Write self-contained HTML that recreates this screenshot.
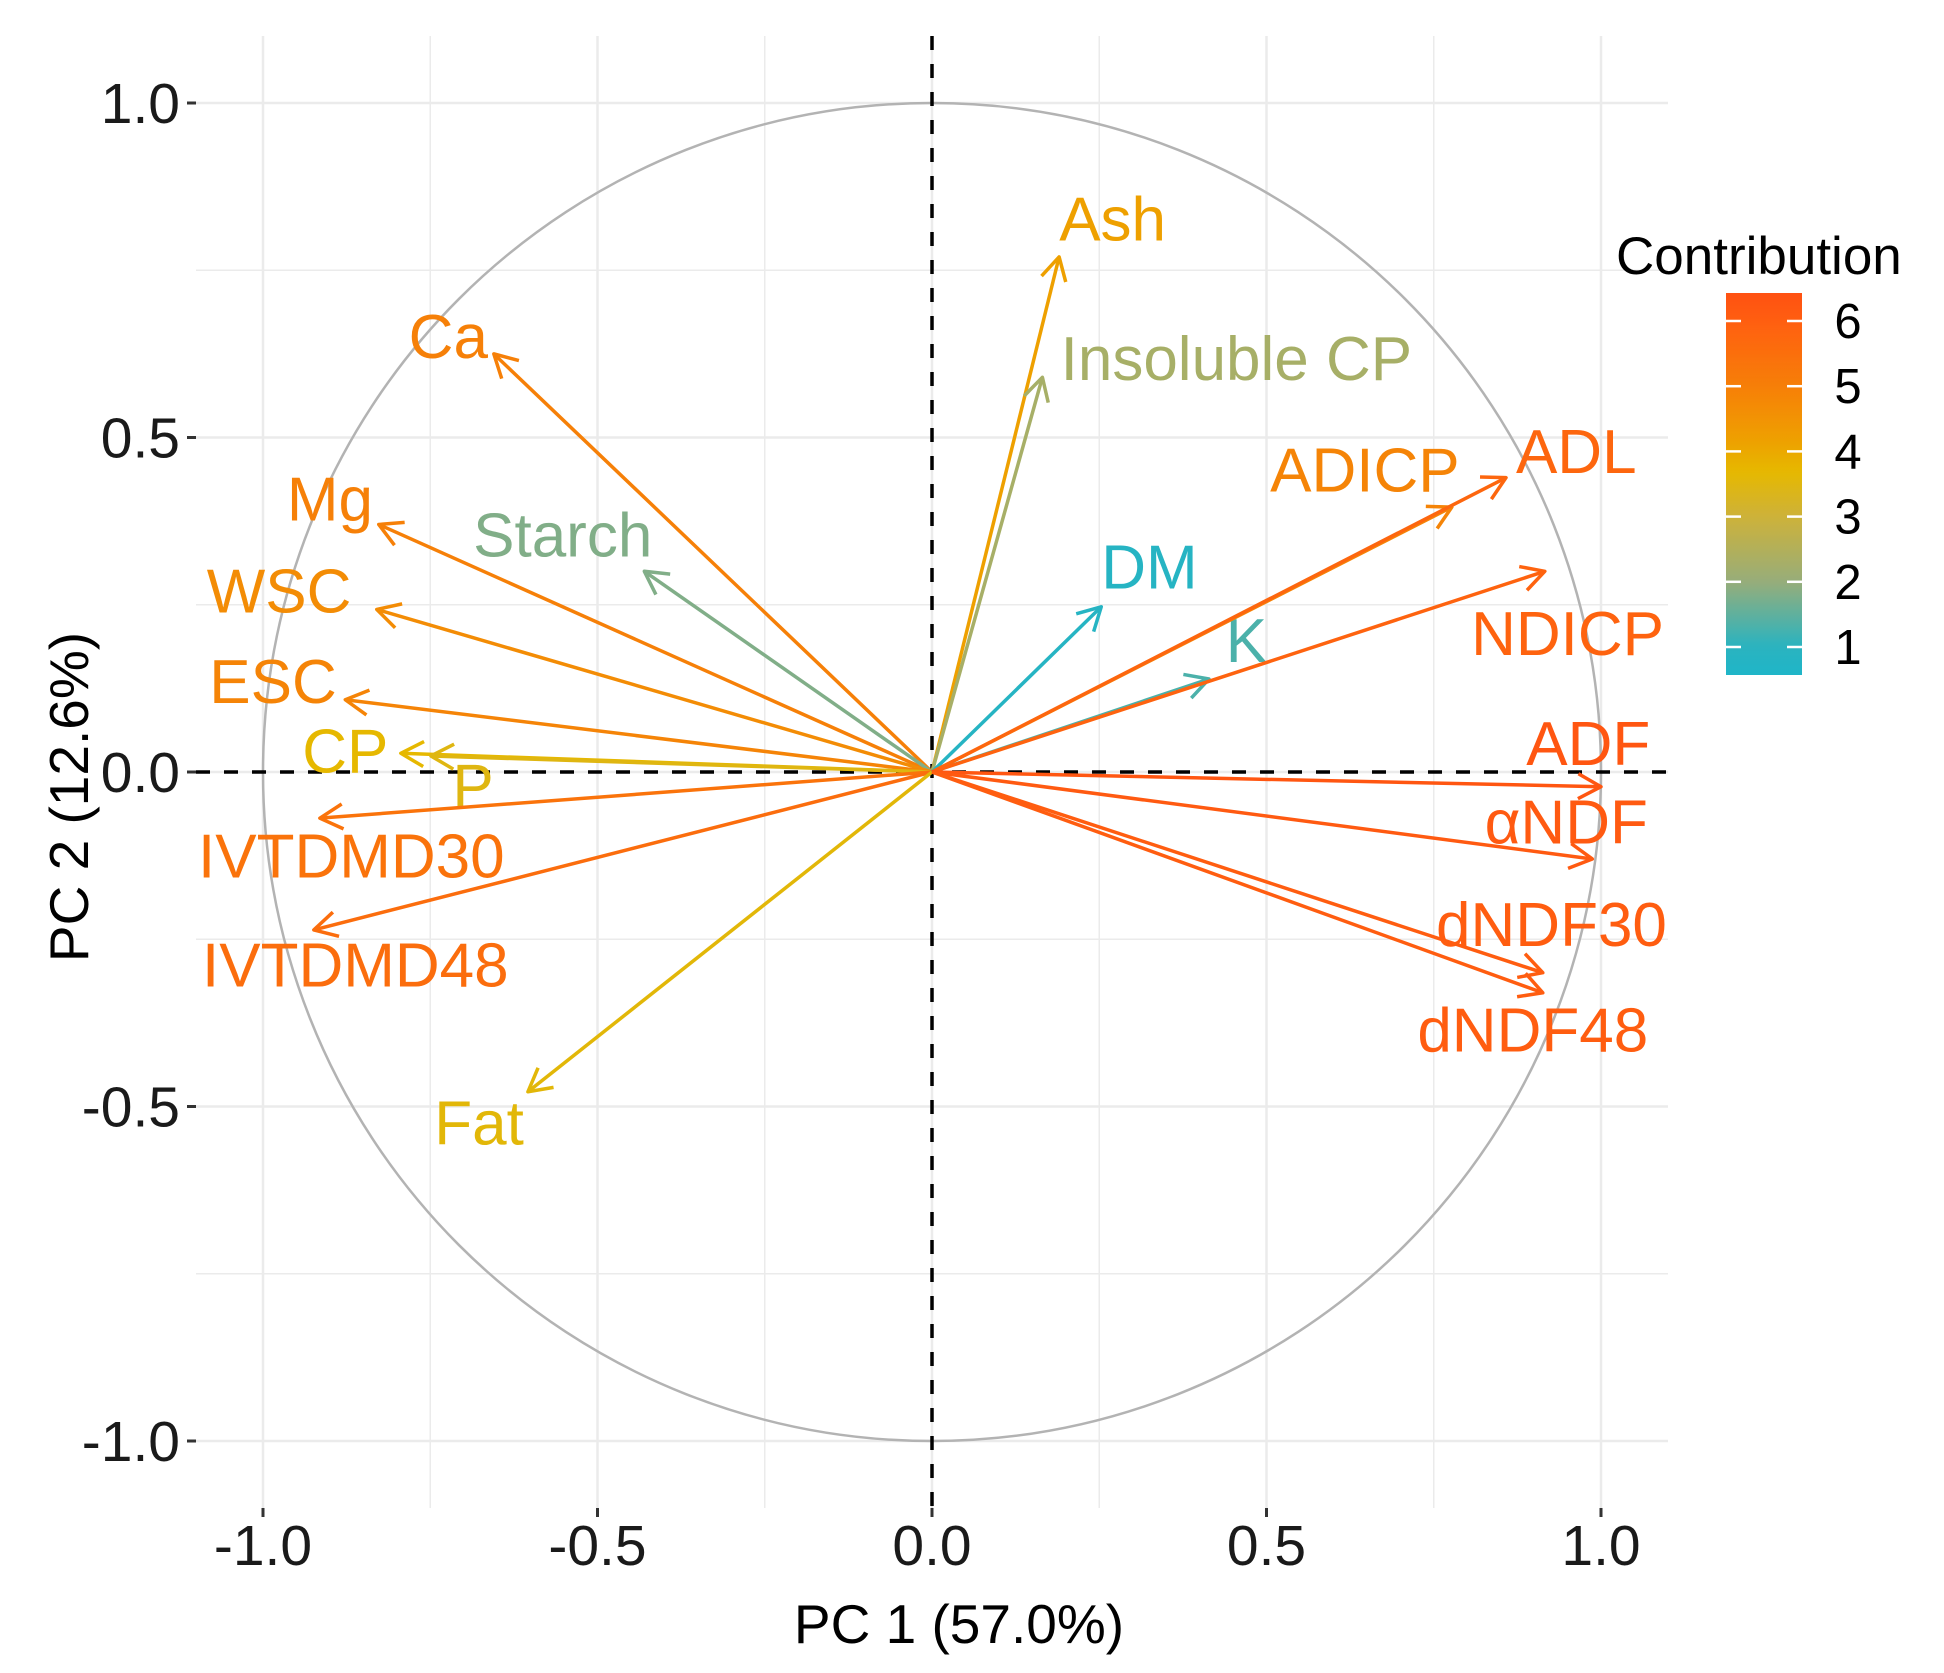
<!DOCTYPE html>
<html><head><meta charset="utf-8"><style>
html,body{margin:0;padding:0;background:#fff}
svg{display:block;font-family:"Liberation Sans",Arial,sans-serif}
</style></head><body>
<svg id="chart" width="1944" height="1673" viewBox="0 0 1944 1673" xmlns="http://www.w3.org/2000/svg">
<defs>
<linearGradient id="cgrad" x1="0" y1="1" x2="0" y2="0"></linearGradient>
</defs>
<g id="grid"></g>
<g id="marks"></g>
<g id="axes"></g>
<g id="legend"></g>
</svg>
<script>
const varNames = ["Ash","Insoluble CP","Ca","Mg","Starch","WSC","ESC","CP","P","IVTDMD30","IVTDMD48","Fat","DM","K","ADICP","ADL","NDICP","ADF","αNDF","dNDF30","dNDF48"];
const pc1 = [0.19,0.165,-0.655,-0.827,-0.43,-0.83,-0.877,-0.794,-0.749,-0.915,-0.924,-0.604,0.253,0.414,0.777,0.858,0.916,1.0,0.987,0.913,0.913];
const pc2 = [0.77,0.59,0.625,0.37,0.30,0.243,0.108,0.028,0.024,-0.069,-0.236,-0.478,0.247,0.139,0.396,0.44,0.30,-0.022,-0.13,-0.30,-0.33];
const contrib = [4.2,2.3,5.0,5.0,1.8,4.7,4.9,3.7,3.5,5.4,5.6,3.6,0.8,1.3,4.9,5.8,5.9,6.3,6.2,6.1,6.1];
const labelX = [0.27,0.455,-0.723,-0.9,-0.552,-0.976,-0.985,-0.877,-0.686,-0.868,-0.862,-0.677,0.325,0.47,0.647,0.963,0.95,0.981,0.948,0.926,0.898];
const labelY = [0.827,0.619,0.652,0.409,0.355,0.271,0.136,0.032,-0.02,-0.125,-0.288,-0.524,0.307,0.197,0.452,0.48,0.208,0.043,-0.074,-0.227,-0.385];
const majorTicks = [-1,-0.5,0,0.5,1];
const tickLabels = ["-1.0","-0.5","0.0","0.5","1.0"];
const minorTicks = [-0.75,-0.25,0.25,0.75];
const legendTicks = [1,2,3,4,5,6];

const NS="http://www.w3.org/2000/svg";
const CX=932, CY=772, U=669;
const L=196, R=1668, T=36, B=1508;
const sx=v=>CX+v*U, sy=v=>CY-v*U;
function mk(tag,attrs,parent){const e=document.createElementNS(NS,tag);for(const k in attrs)e.setAttribute(k,attrs[k]);parent.appendChild(e);return e;}
const stops=[[0.55,[31,181,200]],[1,[43,179,191]],[2,[151,173,122]],[3,[205,178,58]],[3.7,[230,184,0]],[4.2,[238,160,0]],[5,[246,128,8]],[6,[255,96,16]],[6.5,[255,80,18]]];
function col(v){for(let i=0;i<stops.length-1;i++){const a=stops[i],b=stops[i+1];if(v<=b[0]||i==stops.length-2){let t=Math.max(0,Math.min(1,(v-a[0])/(b[0]-a[0])));const c=a[1].map((x,j)=>Math.round(x+(b[1][j]-x)*t));return `rgb(${c})`;}}}

const grad=document.getElementById('cgrad');
for(let v=0.55;v<=6.49;v+=0.1){mk('stop',{offset:((v-0.55)/5.93).toFixed(4),'stop-color':col(v)},grad);}

const grid=document.getElementById('grid');
minorTicks.concat(majorTicks).forEach(v=>{
  const w=majorTicks.includes(v)?2.5:1.5;
  let l1=mk('line',{x1:sx(v),x2:sx(v),y1:T,y2:B,stroke:'#ebebeb','stroke-width':w},grid);
  
  
  let l2=mk('line',{x1:L,x2:R,y1:sy(v),y2:sy(v),stroke:'#ebebeb','stroke-width':w},grid);
  
  
});
let circ=mk('circle',{cx:CX,cy:CY,r:U,fill:'none',stroke:'#b3b3b3','stroke-width':2.5},grid);


let hz=mk('line',{x1:L,x2:R,y1:CY,y2:CY,stroke:'#000','stroke-width':3.5,'stroke-dasharray':'14 14'},grid);


let vz=mk('line',{x1:CX,x2:CX,y1:T,y2:B,stroke:'#000','stroke-width':3.5,'stroke-dasharray':'14 14'},grid);



const marks=document.getElementById('marks');
varNames.forEach((n,i)=>{
  const c=col(contrib[i]);
  const x=sx(pc1[i]), y=sy(pc2[i]);
  const g=mk('g',{},marks);
  
  
  mk('line',{x1:CX,y1:CY,x2:x,y2:y,stroke:c,'stroke-width':3.5},g);
  const ang=Math.atan2(y-CY,x-CX), len=26, sp=0.5;
  const p1=[x-len*Math.cos(ang-sp),y-len*Math.sin(ang-sp)], p2=[x-len*Math.cos(ang+sp),y-len*Math.sin(ang+sp)];
  mk('polyline',{points:`${p1} ${x},${y} ${p2}`,fill:'none',stroke:c,'stroke-width':3.5,'stroke-linejoin':'round'},g);
  const t=mk('text',{x:sx(labelX[i]),y:sy(labelY[i])+22,'text-anchor':'middle','font-size':62,fill:c},g);
  t.textContent=n;
  
  
});

const axes=document.getElementById('axes');
majorTicks.forEach((v,i)=>{
  mk('line',{x1:sx(v),x2:sx(v),y1:B,y2:B+9,stroke:'#333','stroke-width':3},axes);
  const tx=mk('text',{x:sx(v),y:1565,'text-anchor':'middle','font-size':57,fill:'#1a1a1a'},axes);
  tx.textContent=tickLabels[i];
  
  
  mk('line',{x1:L-9,x2:L,y1:sy(v),y2:sy(v),stroke:'#333','stroke-width':3},axes);
  const ty=mk('text',{x:180,y:sy(v)+20,'text-anchor':'end','font-size':57,fill:'#1a1a1a'},axes);
  ty.textContent=tickLabels[i];
  
  
});
const xt=mk('text',{x:959,y:1643,'text-anchor':'middle','font-size':55,fill:'#000'},axes);
xt.textContent='PC 1 (57.0%)';


const yt=mk('text',{x:0,y:0,'text-anchor':'middle','font-size':55,fill:'#000',transform:'translate(88,797) rotate(-90)'},axes);
yt.textContent='PC 2 (12.6%)';



const lg=document.getElementById('legend');
const lt=mk('text',{x:1616,y:274,'font-size':53,fill:'#000'},lg);
lt.textContent='Contribution';


const bx=1726,bw=76,bt=293,bb=675;
const ly=v=>647-(v-1)*65.2;
const bar=mk('rect',{x:bx,y:bt,width:bw,height:bb-bt,fill:'url(#cgrad)'},lg);


legendTicks.forEach(v=>{
  mk('line',{x1:bx,x2:bx+15,y1:ly(v),y2:ly(v),stroke:'#fff','stroke-width':2.5},lg);
  mk('line',{x1:bx+bw-15,x2:bx+bw,y1:ly(v),y2:ly(v),stroke:'#fff','stroke-width':2.5},lg);
  const t=mk('text',{x:1848,y:ly(v)+17,'text-anchor':'middle','font-size':49,fill:'#000'},lg);
  t.textContent=String(v);
  
  
});
</script>
</body></html>
